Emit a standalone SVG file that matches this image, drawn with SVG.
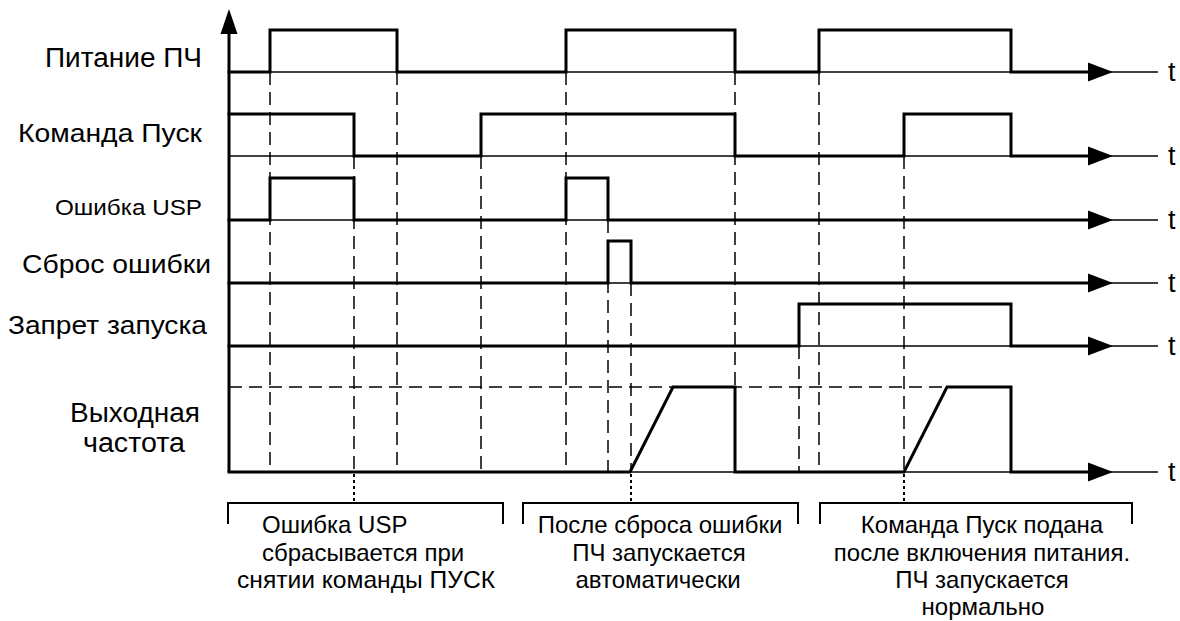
<svg xmlns="http://www.w3.org/2000/svg" width="1180" height="621" viewBox="0 0 1180 621">
<defs>
<style>
text{font-family:"Liberation Sans",Arial,sans-serif;fill:#000}
.ctr{text-anchor:middle}
.thin{stroke:#000;stroke-width:1.5;fill:none}
.thick{stroke:#000;stroke-width:3;fill:none;stroke-linejoin:miter;stroke-linecap:square}
.dash{stroke:#000;stroke-width:1.5;fill:none;stroke-dasharray:13 7}
.dot{stroke:#000;stroke-width:2;fill:none;stroke-dasharray:3 3}
.br{stroke:#000;stroke-width:2;fill:none}
</style>
</defs>
<rect width="1180" height="621" fill="#fff"/>

<g id="guides">
<path class="dash" d="M270,72V472M354,156V472M397,72V472M481,156V472M566,72V472M608,220V472M631,283V472M735,72V472M799,346V472M819,72V472M904,156V472M229,387H947"/>
<path class="dot" d="M354,474V503M631,474V503M904,474V503"/>
</g>

<g id="axis">
<line class="thick" x1="229" y1="30" x2="229" y2="472" style="stroke-linecap:butt"/>
<polygon points="220.5,34 229,9 237.5,34"/>
</g>

<g id="sig-power">
<text x="45" y="67" font-size="27" textLength="157" lengthAdjust="spacingAndGlyphs">Питание ПЧ</text>
<line class="thin" x1="229" y1="72" x2="1158" y2="72"/>
<path class="thick" d="M229,72H270V30H397V72H566V30H735V72H819V30H1011V72H1090"/>
<polygon points="1088,62.5 1113,72 1088,81.5"/>
<text x="1168" y="81" font-size="27">t</text>
</g>

<g id="sig-start">
<text x="18" y="142" font-size="26" textLength="184" lengthAdjust="spacingAndGlyphs">Команда Пуск</text>
<line class="thin" x1="229" y1="156" x2="1158" y2="156"/>
<path class="thick" d="M229,114H354V156H481V114H735V156H904V114H1011V156H1090"/>
<polygon points="1088,146.5 1113,156 1088,165.5"/>
<text x="1168" y="165" font-size="27">t</text>
</g>

<g id="sig-usp">
<text x="55" y="215" font-size="22" textLength="147" lengthAdjust="spacingAndGlyphs">Ошибка USP</text>
<line class="thin" x1="229" y1="220" x2="1158" y2="220"/>
<path class="thick" d="M229,220H270V178H354V220H566V178H608V220H1090"/>
<polygon points="1088,210.5 1113,220 1088,229.5"/>
<text x="1168" y="229" font-size="27">t</text>
</g>

<g id="sig-reset">
<text x="22" y="273" font-size="26" textLength="189" lengthAdjust="spacingAndGlyphs">Сброс ошибки</text>
<line class="thin" x1="229" y1="283" x2="1158" y2="283"/>
<path class="thick" d="M229,283H608V241H631V283H1090"/>
<polygon points="1088,273.5 1113,283 1088,292.5"/>
<text x="1168" y="292" font-size="27">t</text>
</g>

<g id="sig-inhibit">
<text x="8" y="334" font-size="26" textLength="199" lengthAdjust="spacingAndGlyphs">Запрет запуска</text>
<line class="thin" x1="229" y1="346" x2="1158" y2="346"/>
<path class="thick" d="M229,346H799V304H1011V346H1090"/>
<polygon points="1088,336.5 1113,346 1088,355.5"/>
<text x="1168" y="355" font-size="27">t</text>
</g>

<g id="sig-freq">
<text x="70" y="422" font-size="27" textLength="130" lengthAdjust="spacingAndGlyphs">Выходная</text>
<text x="83" y="452" font-size="27" textLength="102" lengthAdjust="spacingAndGlyphs">частота</text>
<line class="thin" x1="229" y1="472" x2="1158" y2="472"/>
<path class="thick" d="M229,472H630L673,387H735V472H904L947,387H1011V472H1090"/>
<polygon points="1088,462.5 1113,472 1088,481.5"/>
<text x="1168" y="481" font-size="27">t</text>
</g>

<g id="note1">
<path class="br" d="M228,524V503H503V524"/>
<text x="262" y="533" font-size="24">Ошибка USP</text>
<text x="262" y="561" font-size="24">сбрасывается при</text>
<text x="237" y="588" font-size="24" textLength="258" lengthAdjust="spacingAndGlyphs">снятии команды ПУСК</text>
</g>

<g id="note2">
<path class="br" d="M523,524V503H798V524"/>
<text class="ctr" x="660" y="533" font-size="24">После сброса ошибки</text>
<text class="ctr" x="659" y="561" font-size="24">ПЧ запускается</text>
<text class="ctr" x="658" y="588" font-size="24">автоматически</text>
</g>

<g id="note3">
<path class="br" d="M820,524V503H1132V524"/>
<text class="ctr" x="982" y="533" font-size="24">Команда Пуск подана</text>
<text class="ctr" x="982" y="561" font-size="24">после включения питания.</text>
<text class="ctr" x="982" y="588" font-size="24">ПЧ запускается</text>
<text class="ctr" x="983" y="615" font-size="24">нормально</text>
</g>
</svg>
